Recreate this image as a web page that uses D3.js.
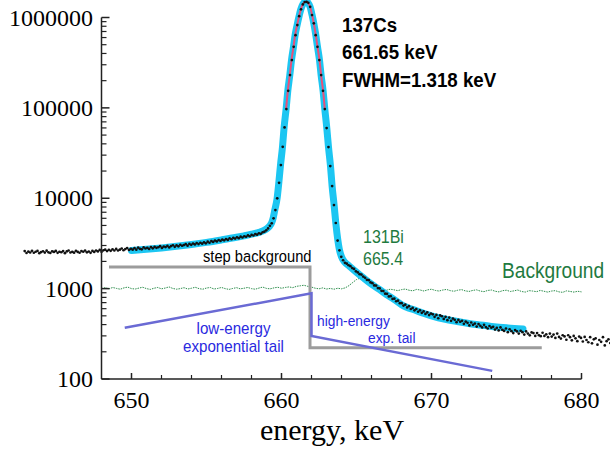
<!DOCTYPE html>
<html><head><meta charset="utf-8">
<script src="https://cdn.jsdelivr.net/npm/d3@7"></script>
<style>body{margin:0;background:#fff} svg{display:block}</style>
</head><body>
<svg id="chart" width="610" height="450"></svg>
<script>
// ---------- data ----------
const xTicks = [650, 660, 670, 680];
const xMinorTicks = [652, 654, 656, 658, 662, 664, 666, 668, 672, 674, 676, 678];
const yTicks = [100, 1000, 10000, 100000, 1000000];
const yTickLabels = ["100", "1000", "10000", "100000", "1000000"];

// measured spectrum (black points), channel energies = dataStart + i*dataStep
const dataStart = 642.879, dataStep = 0.122;
const counts = [
2600,2480,2570,2510,2620,2495,2560,2610,2470,2540,
2590,2505,2630,2520,2480,2585,2545,2615,2490,2560,
2525,2605,2470,2580,2640,2510,2555,2500,2620,2545,
2495,2600,2560,2635,2520,2575,2490,2610,2550,2640,
2580,2680,2555,2650,2700,2600,2690,2620,2720,2640,
2750,2640,2700,2780,2660,2740,2810,2680,2760,2700,
2800,2700,2840,2750,2720,2860,2780,2830,2750,2880,
2790,2900,2830,2870,2950,2820,2920,2880,2970,2860,
2960,3020,2900,3010,2940,3060,2980,3030,3100,2990,
3120,3050,3150,3080,3190,3110,3220,3140,3250,3170,
3310,3220,3360,3290,3400,3330,3450,3370,3490,3420,
3540,3460,3600,3520,3650,3580,3700,3620,3760,3680,
3800,3750,3880,3800,3940,3870,4010,3950,4090,4040,
4200,4270,4420,4630,4950,
5280,5990,7400,9970,14830,23300,37100,60800,97000,154500,
230500,338000,474000,638000,824000,1035000,1230000,1396000,1480000,1492000,
1453000,1313000,1064000,861000,638000,474000,338000,230500,154500,97000,
59700,36800,22700,13640,8410,5320,
3400,2650,2250,2060,1930,1890,1815,1770,1690,1650,1555,
1510,1445,1430,1360,1320,1250,1240,1170,1150,1085,
1080,1015,1005,945,940,880,875,
820,825,770,775,725,735,690,690,
650,665,620,640,595,612,575,595,
555,575,540,560,525,545,510,530,
520,488,512,470,505,495,462,488,
448,478,440,466,452,425,450,430,
440,408,432,418,392,422,398,410,
380,405,388,372,398,375,362,386,370,
378,352,368,345,372,350,340,362,
330,355,338,322,348,336,318,342,
330,310,336,318,304,328,322,300,
322,305,298,325,300,312,290,318,
295,310,285,318,292,280,305,296,
272,305,290,268,300,282,262,295,
285,260,292,270,255,290,248,275,
282,240,270,258,290,235,262,275,250
];

// background spectrum (green), energies = bgStart + j*bgStep
const bgStart = 648, bgStep = 0.25;
const bgCounts = [
1000,1025,995,1030,1005,985,1020,1040,1000,990,
1015,1035,1000,980,1010,1030,995,1015,1045,1005,
985,1000,1025,990,1010,1035,1000,985,1015,1030,
990,1005,1030,1000,980,1005,1025,995,1010,1030,
1000,985,1015,1040,1005,995,1020,1035,1010,1030,
1045,1025,1060,1075,1090,1060,1040,1010,995,1020,
990,1005,985,1010,995,1020,1080,1170,1260,1310,
1270,1170,1070,1000,975,990,960,985,970,950,
975,990,960,945,980,965,940,970,985,955,
940,965,980,950,935,960,975,945,930,955,
970,940,925,955,965,935,920,950,960,930,
945,965,930,915,950,940,925,955,935,915,
940,950,920,910,945,930,915,935,920
];

// fitted curve (cyan)
const fitEnergy = [650,651,652,653,654,655,656,657,657.5,658,658.5,658.8,659,659.2,
 659.333,659.44,659.553,659.707,659.82,659.933,660.067,660.173,660.307,660.42,660.553,
 660.667,660.8,660.907,661.04,661.173,661.287,661.42,661.533,661.667,661.773,661.907,
 662.04,662.153,662.287,662.4,662.533,662.64,662.773,662.887,663.02,663.133,663.267,
 663.373,663.507,663.62,663.75,663.85,664,664.2,664.5,665,665.5,666,666.5,667,667.5,
 668,669,670,671,672,673,674,675,676.1];
const fitCounts = [2640,2720,2820,2940,3080,3250,3460,3700,3840,4000,4200,4380,4580,4900,
 5300,6000,7400,9970,14800,23300,37100,60800,97000,154500,230500,
 338000,474000,638000,824000,1035000,1230000,1396000,1480000,1492000,1453000,1313000,
 1064000,861000,638000,474000,338000,230500,154500,97000,59700,36800,22700,
 13640,8410,5320,3500,2750,2250,1980,1790,1520,1300,1120,985,860,760,
 665,570,500,455,425,400,382,368,357];
const redRange = [660.3, 662.9];

// step background (grey)
const stepEnergy = [648.5, 661.9, 661.9, 677.35];
const stepCounts = [1740, 1740, 222, 222];
// low- and high-energy exponential tails (blue)
const tailEnergy = [649.55, 662.0, 662.0, 674.05];
const tailCounts = [369, 887, 299, 123];

// ---------- drawing ----------
const svg = d3.select('#chart');
svg.append('rect').attr('width',610).attr('height',450).attr('fill','#fff');
const x = d3.scaleLinear().domain([648, 680]).range([101.5, 581.5]);
const y = d3.scaleLog().domain([100, 1e6]).range([379, 17.5]);

const serif = "'Liberation Serif','Times New Roman',serif";
const sans = "'Liberation Sans',Arial,sans-serif";

// background (green, dotted)
const bgData = bgCounts.map((c, j) => [bgStart + j * bgStep, c]);
svg.append('path').datum(bgData)
  .attr('d', d3.line().x(d => x(d[0])).y(d => y(d[1])))
  .attr('fill', 'none').attr('stroke', '#2f8f4e').attr('stroke-width', 1)
  .attr('stroke-dasharray', '1.5,1');

// step background
svg.append('path').datum(stepEnergy.map((e, i) => [e, stepCounts[i]]))
  .attr('d', d3.line().x(d => x(d[0])).y(d => y(d[1])))
  .attr('fill', 'none').attr('stroke', '#9c9c9c').attr('stroke-width', 3);

// tails
svg.append('path').datum(tailEnergy.map((e, i) => [e, tailCounts[i]]))
  .attr('d', d3.line().x(d => x(d[0])).y(d => y(d[1])))
  .attr('fill', 'none').attr('stroke', '#6a6ad4').attr('stroke-width', 2.5);

// fit
const fitData = fitEnergy.map((e, i) => [e, fitCounts[i]]);
const fitLine = d3.line().x(d => x(d[0])).y(d => y(d[1])).curve(d3.curveMonotoneX);
svg.append('path').datum(fitData).attr('d', fitLine)
  .attr('fill', 'none').attr('stroke', '#1cc6f2').attr('stroke-width', 7)
  .attr('stroke-linecap', 'round').attr('stroke-linejoin', 'round');
svg.append('path').datum(fitData.filter(d => d[0] >= redRange[0] && d[0] <= redRange[1]))
  .attr('d', fitLine)
  .attr('fill', 'none').attr('stroke', '#e8507a').attr('stroke-width', 2);

// data points
svg.append('g').selectAll('circle').data(counts.map((c, i) => [dataStart + i * dataStep, c]))
  .join('circle').attr('cx', d => x(d[0])).attr('cy', d => y(d[1])).attr('r', 1.35)
  .attr('fill', '#111');

// axes
const ax = svg.append('g').attr('stroke', '#222').attr('stroke-width', 1.5);
ax.append('line').attr('x1', x(648)).attr('x2', x(648)).attr('y1', y(1e6)).attr('y2', y(100));
ax.append('line').attr('x1', x(648)).attr('x2', x(680)).attr('y1', y(100)).attr('y2', y(100));
const minorY = [];
for (let k = 100; k < 1e6; k *= 10) for (let m = 2; m <= 9; m++) minorY.push(k * m);
ax.selectAll('.ymaj').data(yTicks).join('line')
  .attr('x1', x(648)).attr('x2', x(648) + 8).attr('y1', d => y(d)).attr('y2', d => y(d));
ax.selectAll('.ymin').data(minorY).join('line').attr('stroke-width', 1.2)
  .attr('x1', x(648)).attr('x2', x(648) + 5).attr('y1', d => y(d)).attr('y2', d => y(d));
ax.selectAll('.xmaj').data(xTicks).join('line')
  .attr('x1', d => x(d)).attr('x2', d => x(d)).attr('y1', y(100)).attr('y2', y(100) - 6);
ax.selectAll('.xmin').data(xMinorTicks).join('line').attr('stroke-width', 1.2)
  .attr('x1', d => x(d)).attr('x2', d => x(d)).attr('y1', y(100)).attr('y2', y(100) - 4);

svg.append('g').selectAll('text').data(yTicks).join('text')
  .attr('x', 93).attr('y', d => y(d) + 8).attr('text-anchor', 'end')
  .attr('font-family', serif).attr('font-size', 24).attr('fill', '#000')
  .text((d, i) => yTickLabels[i]);
svg.append('g').selectAll('text').data(xTicks).join('text')
  .attr('x', d => x(d)).attr('y', 408).attr('text-anchor', 'middle')
  .attr('font-family', serif).attr('font-size', 24).attr('fill', '#000')
  .text(d => d);
svg.append('text').attr('x', 332).attr('y', 440).attr('text-anchor', 'middle')
  .attr('font-family', serif).attr('font-size', 30).attr('fill', '#000')
  .text('energy, keV');

// annotations (slightly condensed sans)
function label(txt, px, py, size, color, weight, anchor) {
  svg.append('text')
    .attr('transform', `translate(${px},${py}) scale(0.89,1)`)
    .attr('text-anchor', anchor || 'start')
    .attr('font-family', sans).attr('font-size', size)
    .attr('font-weight', weight || 'normal').attr('fill', color).text(txt);
}
label('137Cs', 342, 31.7, 21, '#000', 'bold');
label('661.65 keV', 342, 59.3, 21, '#000', 'bold');
label('FWHM=1.318 keV', 342, 86.7, 21, '#000', 'bold');
label('step background', 203, 262, 16.5, '#000');
label('131Bi', 363, 243, 18, '#1f7a3f');
label('665.4', 363, 265, 18, '#1f7a3f');
label('Background', 502, 277.5, 21.5, '#1f7a3f');
label('low-energy', 233.5, 334, 17, '#2a2ae0', 'normal', 'middle');
label('exponential tail', 233.5, 352, 17, '#2a2ae0', 'normal', 'middle');
label('high-energy', 317, 326, 15.5, '#2a2ae0');
label('exp. tail', 368, 343, 15.5, '#2a2ae0');
</script>
</body></html>
